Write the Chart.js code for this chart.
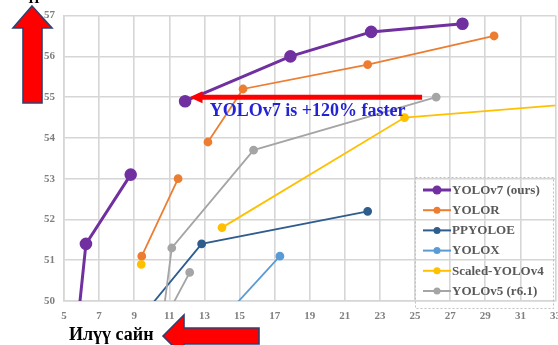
<!DOCTYPE html>
<html>
<head>
<meta charset="utf-8">
<script src="https://cdn.jsdelivr.net/npm/chart.js@4.4.1/dist/chart.umd.min.js"></script>
<style>
  html, body { margin: 0; padding: 0; background: #ffffff; overflow: hidden; }
  #wrap { width: 558px; height: 345px; overflow: hidden; position: relative; }
  canvas { display: block; }
</style>
</head>
<body>
<div id="wrap"><canvas id="c" width="570" height="345"></canvas></div>
<script>
// Latency (ms) vs AP for each detector family; null marks a break in the line.
const yolov7X = [5.5, 6.25, 8.8, null, 11.9, 17.9, 22.5, 27.7];
const yolov7Y = [48.3, 51.4, 53.1, null, 54.9, 56.0, 56.6, 56.8];

const yolorX = [9.43, 11.5, null, 13.2, 15.2, 22.3, 29.5];
const yolorY = [51.1, 53.0, null, 53.9, 55.2, 55.8, 56.5];

const ppyoloeX = [9.2, 12.84, 22.3];
const ppyoloeY = [49.5, 51.4, 52.2];

const yoloxX = [14.0, 17.3];
const yoloxY = [49.55, 51.1];

const scaledV4X = [9.4, null, 14.0, 24.4, 36.0];
const scaledV4Y = [50.9, null, 51.8, 54.5, 54.9];

const yolov5X = [10.6, 11.14, 15.8, 26.2, null, 10.8, 12.16];
const yolov5Y = [49.5, 51.3, 53.7, 55.0, null, 49.6, 50.7];

const seriesNames = ['YOLOv7 (ours)', 'YOLOR', 'PPYOLOE', 'YOLOX', 'Scaled-YOLOv4', 'YOLOv5 (r6.1)'];
const xTicks = [5, 7, 9, 11, 13, 15, 17, 19, 21, 23, 25, 27, 29, 31, 33];
const yTicks = [50, 51, 52, 53, 54, 55, 56, 57];

const calloutText = 'YOLOv7 is +120% faster';
const upLabel = 'Н';
const betterLabel = 'Илүү сайн';

function toPoints(xs, ys) {
  const pts = [];
  for (let i = 0; i < xs.length; i++) {
    if (xs[i] === null || ys[i] === null) {
      pts.push({ x: pts.length ? pts[pts.length - 1].x : 0, y: null });
    } else {
      pts.push({ x: xs[i], y: ys[i] });
    }
  }
  return pts;
}

const SERIF = '"Liberation Serif", "Times New Roman", serif';

function series(label, xs, ys, color, width, radius) {
  return {
    label: label,
    data: toPoints(xs, ys),
    borderColor: color,
    backgroundColor: color,
    pointBackgroundColor: color,
    pointBorderColor: color,
    borderWidth: width,
    pointRadius: radius,
    pointHoverRadius: radius,
    tension: 0,
    spanGaps: false,
    fill: false
  };
}

const datasets = [
  series(seriesNames[0], yolov7X, yolov7Y, '#7030A0', 3, 4.8),
  series(seriesNames[1], yolorX, yolorY, '#ED7D31', 1.8, 3.5),
  series(seriesNames[2], ppyoloeX, ppyoloeY, '#2E5D8E', 1.8, 3.5),
  series(seriesNames[3], yoloxX, yoloxY, '#5B9BD5', 1.8, 3.5),
  series(seriesNames[4], scaledV4X, scaledV4Y, '#FFC000', 1.8, 3.5),
  series(seriesNames[5], yolov5X, yolov5Y, '#A5A5A5', 1.8, 3.5)
].reverse();

function blockArrow(ctx, pts) {
  ctx.beginPath();
  ctx.moveTo(pts[0][0], pts[0][1]);
  for (let i = 1; i < pts.length; i++) ctx.lineTo(pts[i][0], pts[i][1]);
  ctx.closePath();
  ctx.fillStyle = '#FF0000';
  ctx.fill();
  ctx.lineWidth = 1.6;
  ctx.strokeStyle = '#2F4170';
  ctx.stroke();
}

const overlay = {
  id: 'overlay',
  afterDatasetsDraw(chart) {
    const ctx = chart.ctx;
    const xs = chart.scales.x, ys = chart.scales.y;
    ctx.save();

    // horizontal callout arrow pointing at the fastest YOLOv7 point
    const y55 = ys.getPixelForValue(55);
    const xStart = xs.getPixelForValue(25.4);
    const xTip = xs.getPixelForValue(12.15);
    ctx.strokeStyle = '#FF0000';
    ctx.lineWidth = 5;
    ctx.beginPath();
    ctx.moveTo(xStart, y55);
    ctx.lineTo(xTip + 10, y55);
    ctx.stroke();
    ctx.fillStyle = '#FF0000';
    ctx.beginPath();
    ctx.moveTo(xTip, y55);
    ctx.lineTo(xTip + 13, y55 - 6);
    ctx.lineTo(xTip + 13, y55 + 6);
    ctx.closePath();
    ctx.fill();

    ctx.fillStyle = '#2323D6';
    ctx.font = 'bold 18px ' + SERIF;
    ctx.textBaseline = 'alphabetic';
    ctx.textAlign = 'left';
    ctx.fillText(calloutText, xs.getPixelForValue(13.3), ys.getPixelForValue(54.53));

    // legend box
    const lx = 415, ly = 177, lw = 138, lh = 131;
    ctx.setLineDash([2, 2]);
    ctx.strokeStyle = '#BFBFBF';
    ctx.lineWidth = 1;
    ctx.strokeRect(lx + 0.5, ly + 0.5, lw, lh);
    ctx.setLineDash([]);
    const order = chart.data.datasets.slice().reverse();
    ctx.font = 'bold 13px ' + SERIF;
    ctx.textBaseline = 'middle';
    order.forEach((ds, i) => {
      const yy = 190 + i * 20.2;
      ctx.strokeStyle = ds.borderColor;
      ctx.lineWidth = i === 0 ? 3 : 2;
      ctx.beginPath();
      ctx.moveTo(423, yy);
      ctx.lineTo(451, yy);
      ctx.stroke();
      ctx.fillStyle = ds.borderColor;
      ctx.beginPath();
      ctx.arc(437, yy, i === 0 ? 4.5 : 3.5, 0, Math.PI * 2);
      ctx.fill();
      ctx.fillStyle = '#595959';
      ctx.fillText(ds.label, 452, yy + 0.5);
    });

    // vertical arrow: higher accuracy is better
    blockArrow(ctx, [[32, 6], [52, 28], [42, 28], [42, 103], [23, 103], [23, 28], [13, 28]]);
    ctx.fillStyle = '#000000';
    ctx.font = 'bold 14px ' + SERIF;
    ctx.textAlign = 'center';
    ctx.textBaseline = 'alphabetic';
    ctx.fillText(upLabel, 34, 3);

    // bottom caption with left-pointing arrow: lower latency is better
    ctx.textAlign = 'left';
    ctx.font = 'bold 18px ' + SERIF;
    ctx.fillText(betterLabel, 69, 340);
    blockArrow(ctx, [[163, 336], [184, 315], [184, 328], [259, 328], [259, 344], [184, 344], [184, 357]]);

    ctx.restore();
  }
};

new Chart(document.getElementById('c'), {
  type: 'line',
  data: { datasets: datasets },
  options: {
    responsive: false,
    animation: false,
    devicePixelRatio: 1,
    layout: { padding: { top: 12, right: 13, left: 0, bottom: 0 } },
    plugins: { legend: { display: false }, tooltip: { enabled: false } },
    scales: {
      x: {
        type: 'linear',
        min: xTicks[0],
        max: xTicks[xTicks.length - 1],
        afterBuildTicks(scale) { scale.ticks = xTicks.map(v => ({ value: v })); },
        afterFit(scale) { scale.height = 44; },
        grid: { color: '#D6D6D6', lineWidth: 1.6, drawTicks: false },
        border: { color: '#D6D6D6', width: 1.6 },
        ticks: { padding: 9, color: '#7F7F7F', font: { family: SERIF, weight: 'bold', size: 11 }, maxRotation: 0 }
      },
      y: {
        type: 'linear',
        min: yTicks[0],
        max: yTicks[yTicks.length - 1],
        afterBuildTicks(scale) { scale.ticks = yTicks.map(v => ({ value: v })); },
        afterFit(scale) { scale.width = 64; },
        grid: { color: '#D6D6D6', lineWidth: 1.6, drawTicks: false },
        border: { color: '#D6D6D6', width: 1.6 },
        ticks: { padding: 9, color: '#7F7F7F', font: { family: SERIF, weight: 'bold', size: 11 } }
      }
    }
  },
  plugins: [overlay]
});
</script>
</body>
</html>
